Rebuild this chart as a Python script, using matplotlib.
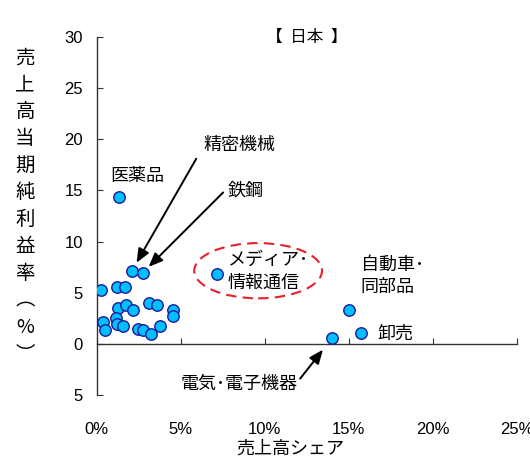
import matplotlib
matplotlib.use("Agg")
import matplotlib.pyplot as plt
from matplotlib.patches import Ellipse
from matplotlib.ticker import FuncFormatter, MultipleLocator

plt.rcParams["font.family"] = ["Liberation Sans", "Noto Sans CJK JP"]
JP = ["Noto Sans CJK JP", "DejaVu Sans"]

# industries: share of sales (%) vs net profit margin (%)
share = [0.24, 1.19, 1.68, 2.08, 2.74, 1.29, 1.73, 2.18, 3.13, 3.57, 4.52, 4.52,
         0.40, 0.49, 1.15, 1.23, 1.55, 2.48, 2.77, 3.23, 3.77,
         1.33, 7.17, 14.98, 14.02, 15.71]
margin = [5.3, 5.6, 5.6, 7.1, 6.95, 3.55, 3.75, 3.35, 3.95, 3.8, 3.3, 2.75,
          2.1, 1.35, 2.5, 1.95, 1.7, 1.45, 1.4, 1.0, 1.7,
          14.4, 6.85, 3.35, 0.6, 1.1]

# labelled points (index into the arrays above)
i_seimitsu, i_tekko, i_iyaku, i_media, i_jidosha, i_denki, i_oroshi = 3, 4, 21, 22, 23, 24, 25

fig = plt.figure(figsize=(5.30, 4.57), dpi=100)
ax = fig.add_axes([0.1825, 0.1357, 0.7930, 0.7833])

ax.scatter(share, margin, s=68, facecolor="#00bfff", edgecolor="#1a1a9a",
           linewidth=1.0, zorder=3)

ax.set_xlim(0, 25)
ax.set_ylim(-5, 30)
ax.xaxis.set_major_locator(MultipleLocator(5))
ax.yaxis.set_major_locator(MultipleLocator(5))
ax.xaxis.set_major_formatter(FuncFormatter(lambda v, p: f"{v:.0f}%"))
ax.yaxis.set_major_formatter(FuncFormatter(lambda v, p: f"{abs(v):.0f}"))

ax.spines["top"].set_visible(False)
ax.spines["right"].set_visible(False)
ax.spines["bottom"].set_position(("data", 0))
for sp in ("left", "bottom"):
    ax.spines[sp].set_color("#333333")
    ax.spines[sp].set_linewidth(1.0)
ax.tick_params(axis="x", direction="in", length=4, pad=56, labelsize=12,
               color="#333333")
ax.tick_params(axis="y", direction="in", length=4, pad=10, labelsize=12,
               color="#333333")

ax.text(12.5, 30, "【  日本  】", ha="center", va="center", fontsize=12, family=JP)

txt = dict(fontsize=13, family=JP, va="center", ha="left")
ax.text(6.33, 19.4, "精密機械", **txt)
ax.text(7.8, 15.0, "鉄鋼", **txt)
ax.text(0.79, 16.4, "医薬品", **txt)
ax.text(7.8, 7.1, "メディア･\n情報通信", linespacing=1.3, **txt)
ax.text(15.7, 6.6, "自動車･\n同部品", linespacing=1.3, **txt)
ax.text(16.7, 1.0, "卸売", **txt)
ax.text(4.97, -3.9, "電気･電子機器", **txt)

arrow = dict(arrowstyle="-|>,head_length=0.6,head_width=0.25", color="black",
             lw=1.4, mutation_scale=14, shrinkA=0)
ax.annotate("", xy=(share[i_seimitsu], margin[i_seimitsu]), xytext=(5.92, 18.1),
            arrowprops=dict(shrinkB=7, **arrow))
ax.annotate("", xy=(share[i_tekko], margin[i_tekko]), xytext=(7.52, 14.8),
            arrowprops=dict(shrinkB=6, **arrow))
ax.annotate("", xy=(share[i_denki], margin[i_denki]), xytext=(12.1, -3.4),
            arrowprops=dict(shrinkB=11, **arrow))

ax.add_patch(Ellipse((9.6, 7.15), 7.6, 5.4, fill=False, edgecolor="#e8202a",
                     linestyle=(0, (5, 3)), linewidth=1.5, zorder=2))

ylabel = "\n".join(list("売上高当期純利益率") + ["︵", "%", "︶"])
fig.text(25 / 530, 1 - 206 / 457, ylabel, ha="center", va="center",
         fontsize=14, family=JP, linespacing=1.37)
fig.text(290 / 530, 1 - 449 / 457, "売上高シェア", ha="center", va="center",
         fontsize=13, family=JP)

fig.savefig("out.png", dpi=100)
